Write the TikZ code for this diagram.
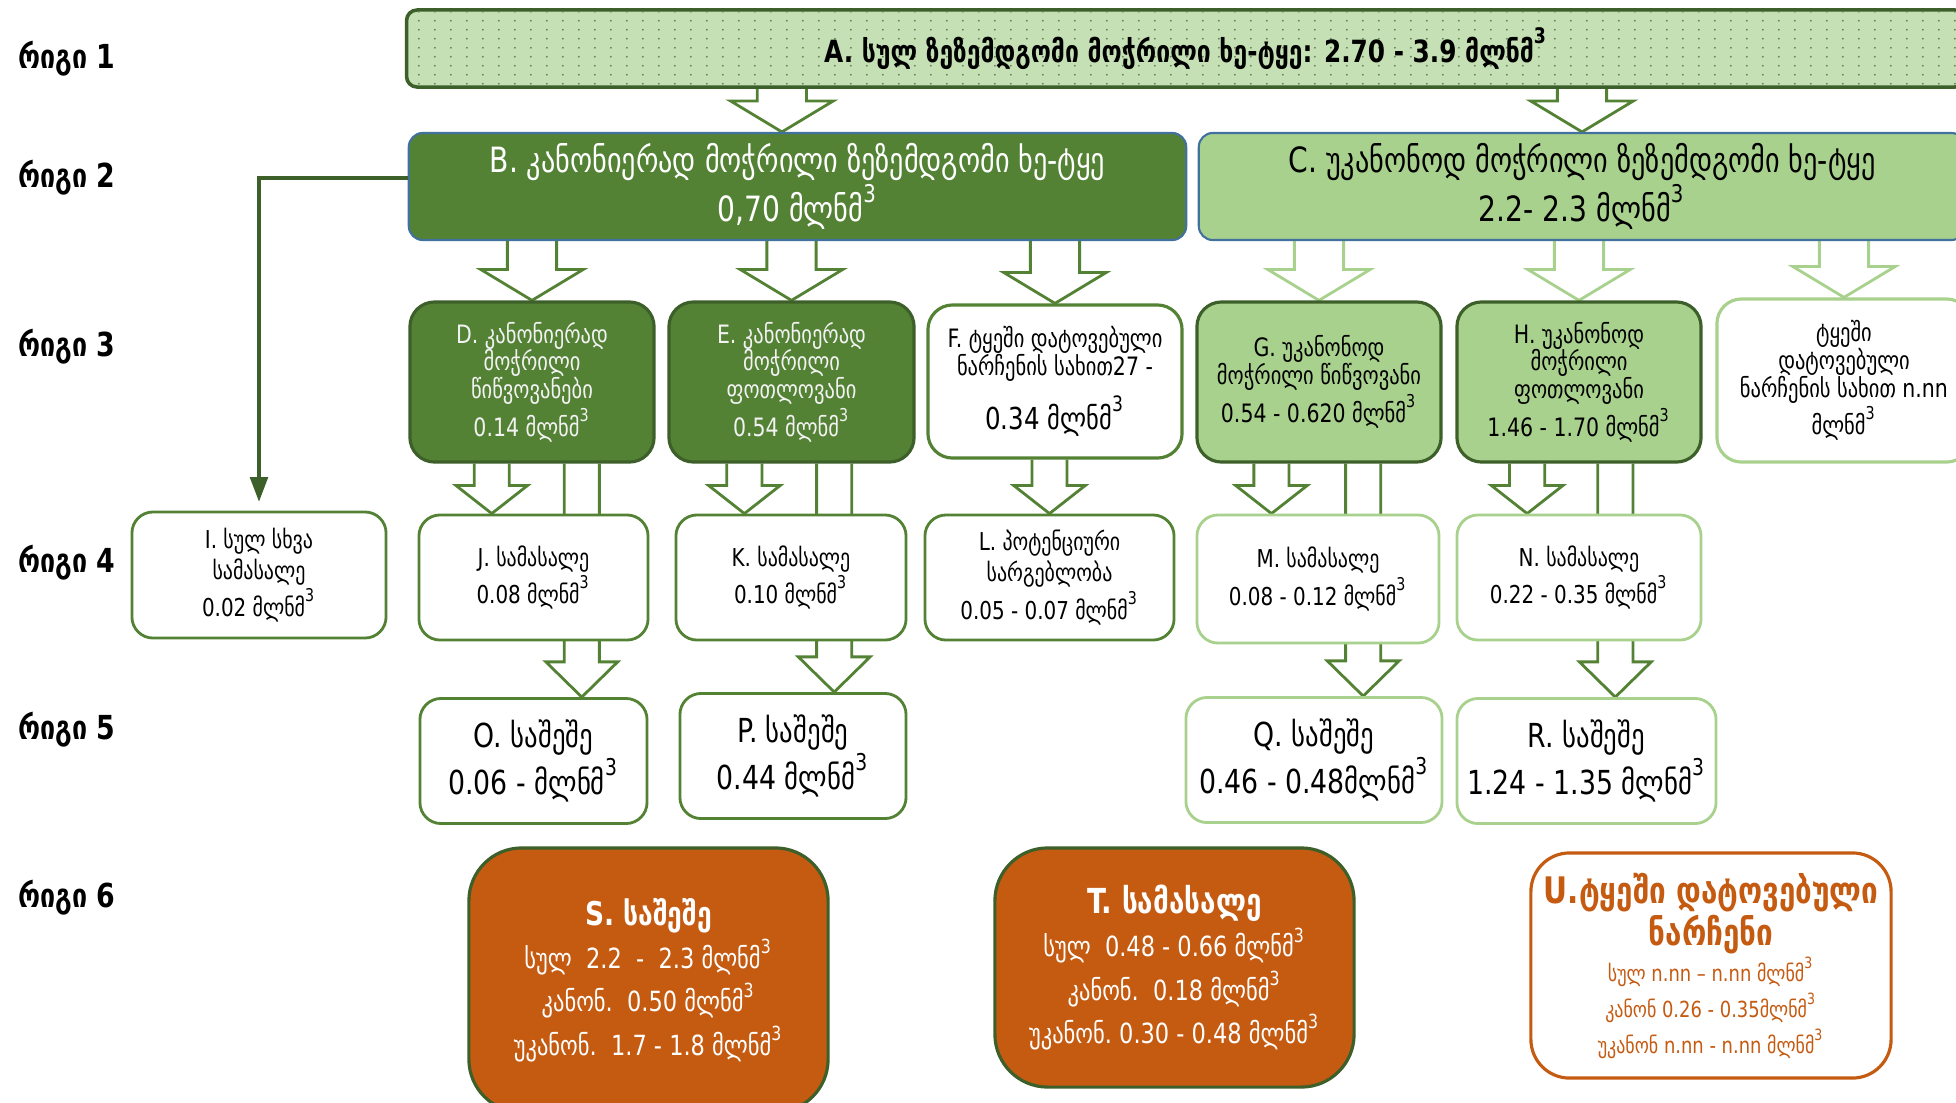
\documentclass[tikz,border=0pt]{standalone}
\usepackage{fontspec}
\setmainfont[FakeStretch=0.9]{DejaVu Sans Condensed}
\usetikzlibrary{positioning,calc,backgrounds,arrows.meta,patterns.meta}

\definecolor{leafgreen}{HTML}{548235}
\definecolor{mossgreen}{HTML}{A9D18E}
\definecolor{palegreen}{HTML}{C5E0B4}
\definecolor{bordergreen}{HTML}{3D5F2A}
\definecolor{slateblue}{HTML}{41719C}
\definecolor{rust}{HTML}{C55A11}

\newcommand{\mcub}{მლნმ\textsuperscript{\raisebox{0.45ex}{3}}}

\tikzdeclarepattern{
  name=pindots, type=uncolored,
  bounding box={(0pt,0pt) and (4.5pt,2.6pt)},
  tile size={(4.5pt,2.6pt)},
  code={\fill (2.25pt,1.3pt) circle (0.3pt);}
}

% hollow block arrow: [style]{from}{tip}{shaft half}{head half}{head length}
\newcommand{\hollowarrow}[6][]{%
  \draw[arrowline,#1] let \p1=#2, \p2=#3 in
    (\x2-#4,\y1) -- (\x2-#4,\y2+#6) -- (\x2-#5,\y2+#6) -- (\x2,\y2)
    -- (\x2+#5,\y2+#6) -- (\x2+#4,\y2+#6) -- (\x2+#4,\y1);}
\newcommand{\bigarrow}[3][]{\hollowarrow[#1]{#2}{#3}{7pt}{14.6pt}{8.8pt}}
\newcommand{\smallarrow}[3][]{\hollowarrow[#1]{#2}{#3}{5pt}{10.2pt}{8pt}}
\newcommand{\longarrow}[3][]{\hollowarrow[#1]{#2}{#3}{5pt}{10.2pt}{10pt}}

\tikzset{
  rowlabel/.style={anchor=west, inner sep=0pt, font=\fontsize{9.4}{11}\selectfont\bfseries},
  topbox/.style={draw=bordergreen, line width=1pt, rounded corners=3pt, fill=palegreen,
    minimum width=15.58cm, minimum height=0.77cm, inner sep=0pt,
    font=\fontsize{8.7}{10}\selectfont\bfseries},
  mainbox/.style={draw=slateblue, line width=0.6pt, rounded corners=4pt, minimum height=1.07cm,
    align=center, inner sep=0pt, font=\fontsize{9.9}{12.8}\selectfont},
  groupbox/.style={draw=bordergreen, line width=0.9pt, rounded corners=7pt, minimum width=2.44cm,
    minimum height=1.6cm, align=center, inner sep=0pt, font=\fontsize{7.2}{7.9}\selectfont},
  plainbox/.style={draw=leafgreen, fill=white, line width=0.8pt, rounded corners=6pt,
    minimum height=1.25cm, align=center, inner sep=0pt, font=\fontsize{7}{8.8}\selectfont},
  woodbox/.style={plainbox, font=\fontsize{9.4}{12.5}\selectfont},
  paleedge/.style={draw=mossgreen},
  sumbox/.style={line width=0.9pt, rounded corners=15pt, minimum width=3.59cm, align=center,
    inner sep=0pt, font=\fontsize{7.9}{12.3}\selectfont},
  arrowline/.style={draw=leafgreen, fill=white, line width=0.8pt},
}

\begin{document}
\begin{tikzpicture}[x=0.01cm, y=-0.01cm]
\useasboundingbox (0,0) rectangle (1956,1102);

% row labels
\node[rowlabel] (row1) at (18,59) {რიგი 1};
\node[rowlabel] (row2) at (18,178) {რიგი 2};
\node[rowlabel] (row3) at (18,347) {რიგი 3};
\node[rowlabel] (row4) at (18,563) {რიგი 4};
\node[rowlabel] (row5) at (18,730) {რიგი 5};
\node[rowlabel] (row6) at (18,898) {რიგი 6};

% row 1
\node[topbox, postaction={pattern=pindots, pattern color=bordergreen!80}] (A) at (1186,48.5)
  {A. სულ ზეზემდგომი მოჭრილი ხე-ტყე: 2.70 - 3.9 \mcub};

% row 2
\node[mainbox, fill=leafgreen, text=white, minimum width=7.77cm] (B) at (797.5,186.5)
  {B. კანონიერად მოჭრილი ზეზემდგომი ხე-ტყე\\0,70 \mcub};
\node[mainbox, fill=mossgreen, minimum width=7.66cm] (C) at (1582,186.5)
  {C. უკანონოდ მოჭრილი ზეზემდგომი ხე-ტყე\\2.2- 2.3 \mcub};

% row 3
\node[groupbox, fill=leafgreen, text=white!95!black] (D) at (532,382)
  {D. კანონიერად\\მოჭრილი\\წიწვოვანები\\0.14 \mcub};
\node[groupbox, fill=leafgreen, text=white!95!black, minimum width=2.45cm] (E) at (791.5,382)
  {E. კანონიერად\\მოჭრილი\\ფოთლოვანი\\0.54 \mcub};
\node[groupbox, draw=leafgreen, fill=white, minimum width=2.54cm, minimum height=1.53cm] (F) at (1055,381.5)
  {F. ტყეში დატოვებული\\ნარჩენის სახით27 -\\[3pt]{\fontsize{8.6}{10}\selectfont 0.34 \mcub}};
\node[groupbox, fill=mossgreen] (G) at (1319,382)
  {G. უკანონოდ\\მოჭრილი წიწვოვანი\\0.54 - 0.620 \mcub};
\node[groupbox, fill=mossgreen] (H) at (1579,382)
  {H. უკანონოდ\\მოჭრილი\\ფოთლოვანი\\1.46 - 1.70 \mcub};
\node[groupbox, draw=mossgreen, fill=white, minimum width=2.54cm, minimum height=1.63cm] (X) at (1844,380.5)
  {ტყეში\\დატოვებული\\ნარჩენის სახით n.nn\\\mcub};

% row 4
\node[plainbox, minimum width=2.54cm, minimum height=1.26cm] (I) at (259,575)
  {I. სულ სხვა\\სამასალე\\0.02 \mcub};
\node[plainbox, minimum width=2.29cm] (J) at (533.5,577.5) {J. სამასალე\\0.08 \mcub};
\node[plainbox, minimum width=2.30cm] (K) at (791,577.5) {K. სამასალე\\0.10 \mcub};
\node[plainbox, minimum width=2.49cm] (L) at (1049.5,577.5)
  {L. პოტენციური\\სარგებლობა\\0.05 - 0.07 \mcub};
\node[plainbox, paleedge, minimum width=2.42cm, minimum height=1.28cm] (M) at (1318,579)
  {M. სამასალე\\0.08 - 0.12 \mcub};
\node[plainbox, paleedge, minimum width=2.44cm] (N) at (1579,577.5)
  {N. სამასალე\\0.22 - 0.35 \mcub};

% row 5
\node[woodbox, minimum width=2.27cm] (O) at (533.5,761) {O. საშეშე\\0.06 - \mcub};
\node[woodbox, minimum width=2.26cm] (P) at (793,756) {P. საშეშე\\0.44 \mcub};
\node[woodbox, paleedge, minimum width=2.56cm] (Q) at (1314,760) {Q. საშეშე\\0.46 - 0.48\mcub};
\node[woodbox, paleedge, minimum width=2.59cm] (R) at (1586.5,761) {R. საშეშე\\1.24 - 1.35 \mcub};

% row 6
\node[sumbox, draw=bordergreen, fill=rust, text=white, minimum height=2.64cm] (S) at (648.5,980)
  {{\fontsize{9.3}{12}\selectfont\bfseries S. საშეშე}\\სულ\ \ 2.2\ \ -\ \ 2.3 \mcub\\კანონ.\ \ 0.50 \mcub\\უკანონ.\ \ 1.7 - 1.8 \mcub};
\node[sumbox, draw=bordergreen, fill=rust, text=white, minimum height=2.39cm] (T) at (1174.5,967.5)
  {{\fontsize{9.8}{12}\selectfont\bfseries T. სამასალე}\\სულ\ \ 0.48 - 0.66 \mcub\\კანონ.\ \ 0.18 \mcub\\უკანონ.\ 0.30 - 0.48 \mcub};
\node[sumbox, draw=rust, fill=white, text=rust, rounded corners=11pt, minimum width=3.6cm,
  minimum height=2.25cm, font=\fontsize{6.3}{10.2}\selectfont] (U) at (1711,965.5)
  {{\fontsize{10.4}{11.5}\selectfont\bfseries U.ტყეში დატოვებული}\\
   {\fontsize{10.4}{12}\selectfont\bfseries ნარჩენი}\\
   სულ n.nn – n.nn \mcub\\კანონ 0.26 - 0.35\mcub\\უკანონ n.nn - n.nn \mcub};

\begin{scope}[on background layer]
  % row 1 to row 2
  \bigarrow{(A.south)}{($(B.north west)!0.48!(B.north east)$)}
  \bigarrow{(A.south)}{(C.north)}
  % row 2 to row 3
  \bigarrow{(B.south)}{(D.north)}
  \bigarrow{(B.south)}{(E.north)}
  \bigarrow{(B.south)}{(F.north)}
  \bigarrow[draw=mossgreen]{(C.south)}{(G.north)}
  \bigarrow[draw=mossgreen]{(C.south)}{(H.north)}
  \bigarrow[draw=mossgreen]{(C.south)}{(X.north)}
  % row 3 to rows 4 and 5
  \smallarrow{(D.south)}{($(J.north west)!0.32!(J.north east)$)}
  \longarrow{(D.south)}{($(O.north west)!0.71!(O.north east)$)}
  \smallarrow{(E.south)}{($(K.north west)!0.30!(K.north east)$)}
  \longarrow{(E.south)}{($(P.north west)!0.68!(P.north east)$)}
  \smallarrow{(F.south)}{(L.north)}
  \smallarrow{(G.south)}{($(M.north west)!0.31!(M.north east)$)}
  \longarrow{(G.south)}{($(Q.north west)!0.69!(Q.north east)$)}
  \smallarrow{(H.south)}{($(N.north west)!0.29!(N.north east)$)}
  \longarrow{(H.south)}{($(R.north west)!0.61!(R.north east)$)}
\end{scope}

% other timber link
\draw[bordergreen, line width=1pt, -{Triangle[length=7pt,width=5pt]}, shorten >=2.5pt]
  ($(B.north west)!0.42!(B.south west)$) -| (I.north);

\end{tikzpicture}
\end{document}
